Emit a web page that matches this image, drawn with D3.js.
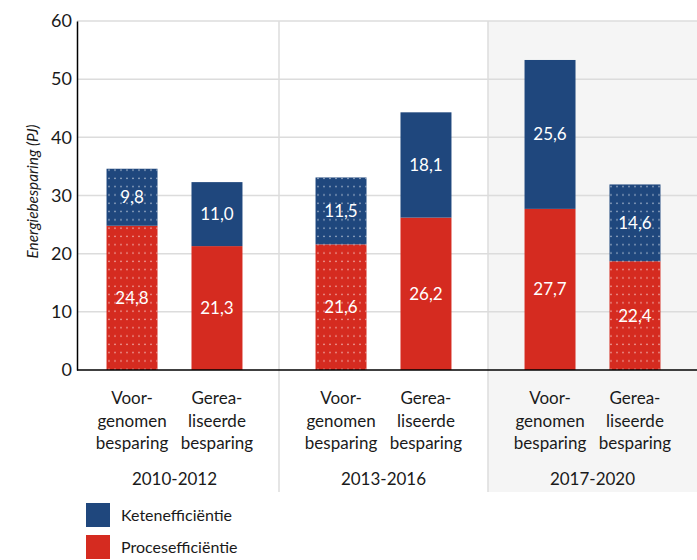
<!DOCTYPE html>
<html>
<head>
<meta charset="utf-8">
<script src="https://cdn.jsdelivr.net/npm/d3@7"></script>
<style>
  body { margin: 0; background: #fff; }
  svg { font-family: Lato, "Open Sans", sans-serif; }
</style>
</head>
<body>
<svg id="chart" width="697" height="560"></svg>
<script>
// periods and bar types
const periods = ["2010-2012", "2013-2016", "2017-2020"]
const barTypes = ["voor", "ger"]
const barLabels = [["Voor-", "genomen", "besparing"], ["Gerea-", "liseerde", "besparing"]]

// bar heights as drawn, per period, same order as barTypes
const proces = [[24.8, 21.3], [21.6, 26.2], [27.7, 18.7]]
const keten = [[9.8, 11.0], [11.5, 18.1], [25.6, 13.2]]
// printed labels
const procesLabels = [["24,8", "21,3"], ["21,6", "26,2"], ["27,7", "22,4"]]
const ketenLabels = [["9,8", "11,0"], ["11,5", "18,1"], ["25,6", "14,6"]]
// dotted bars
const dotted = [[true, false], [true, false], [false, true]]

const yTicks = [0, 10, 20, 30, 40, 50, 60]
const seriesNames = ["Ketenefficiëntie", "Procesefficiëntie"]
const colors = ["#1f477d", "#d52b20"]

const svg = d3.select("#chart")

const plotLeft = 77, plotRight = 697, plotTop = 21, plotBottom = 370

// scales
const x0 = d3.scaleBand().domain(periods).range([70, 697])
const x1 = d3.scaleBand().domain(barTypes).range([0, x0.bandwidth()])
  .paddingInner(0.4).paddingOuter(0.43)
const y = d3.scaleLinear().domain([0, 60]).range([plotBottom, plotTop])

// dot pattern
const defs = svg.append("defs")
const pat = defs.append("pattern")
  .attr("id", "dots")
  .attr("patternUnits", "userSpaceOnUse")
  .attr("width", 6).attr("height", 8.3)
pat.append("circle").attr("cx", 3).attr("cy", 4).attr("r", 0.85)
  .attr("fill", "#fff").attr("opacity", 0.6)

// grey background for the last period
svg.append("rect")
  .attr("x", x0("2017-2020")).attr("y", plotTop)
  .attr("width", plotRight - x0("2017-2020")).attr("height", 492 - plotTop)
  .attr("fill", "#f5f5f5")

// gridlines
svg.append("g").selectAll("line")
  .data(yTicks.filter(d => d > 0))
  .join("line")
  .attr("x1", plotLeft).attr("x2", plotRight)
  .attr("y1", d => y(d)).attr("y2", d => y(d))
  .attr("stroke", "#dcdcdc").attr("stroke-width", 1.5)

// period dividers
svg.append("g").selectAll("line")
  .data(periods.slice(1))
  .join("line")
  .attr("x1", d => x0(d)).attr("x2", d => x0(d))
  .attr("y1", plotTop).attr("y2", 492)
  .attr("stroke", "#dcdcdc").attr("stroke-width", 1.5)

// bars
periods.forEach((p, i) => {
  const g = svg.append("g").attr("transform", "translate(" + x0(p) + ",0)")
  barTypes.forEach((b, j) => {
    const bx = x1(b), bw = x1.bandwidth()
    const pv = proces[i][j], kv = keten[i][j]
    const segs = [
      { y0: 0, y1: pv, c: colors[1], t: procesLabels[i][j] },
      { y0: pv, y1: pv + kv, c: colors[0], t: ketenLabels[i][j] }
    ]
    segs.forEach(s => {
      g.append("rect")
        .attr("x", bx).attr("width", bw)
        .attr("y", y(s.y1)).attr("height", y(s.y0) - y(s.y1))
        .attr("fill", s.c)
      if (dotted[i][j]) {
        g.append("rect")
          .attr("x", bx).attr("width", bw)
          .attr("y", y(s.y1)).attr("height", y(s.y0) - y(s.y1))
          .attr("fill", "url(#dots)")
      }
      g.append("text")
        .attr("x", bx + bw / 2)
        .attr("y", (y(s.y0) + y(s.y1)) / 2)
        .attr("dy", "0.35em")
        .attr("text-anchor", "middle")
        .attr("fill", "#fff")
        .attr("font-size", 17)
        .text(s.t)
    })
    // category label
    const t = g.append("text")
      .attr("x", bx + bw / 2).attr("y", 404)
      .attr("text-anchor", "middle")
      .attr("font-size", 17).attr("fill", "#1a1a1a")
    barLabels[j].forEach((l, k) => {
      t.append("tspan").attr("x", bx + bw / 2).attr("dy", k ? 22.5 : 0).text(l)
    })
  })
  g.append("text")
    .attr("x", x0.bandwidth() / 2).attr("y", 485)
    .attr("text-anchor", "middle")
    .attr("font-size", 17).attr("fill", "#1a1a1a")
    .text(p)
})

// y axis
const yAxis = svg.append("g")
  .attr("transform", "translate(" + plotLeft + ",0)")
  .call(d3.axisLeft(y).tickValues(yTicks).tickSize(0).tickPadding(5))
yAxis.select(".domain").attr("stroke", "#000").attr("stroke-width", 1.5)
yAxis.selectAll("text").attr("font-size", 18).attr("fill", "#1a1a1a")
  .style("font-family", "Lato, sans-serif")

// x axis line
svg.append("line")
  .attr("x1", plotLeft).attr("x2", plotRight)
  .attr("y1", plotBottom).attr("y2", plotBottom)
  .attr("stroke", "#000").attr("stroke-width", 1.5)

// y axis title
svg.append("text")
  .attr("transform", "translate(38," + (y(30) - 4) + ") rotate(-90)")
  .attr("text-anchor", "middle")
  .attr("font-size", 16).attr("font-style", "italic").attr("fill", "#1a1a1a")
  .attr("textLength", 134).attr("lengthAdjust", "spacingAndGlyphs")
  .text("Energiebesparing (PJ)")

// legend
const legend = svg.append("g").selectAll("g")
  .data(seriesNames)
  .join("g")
  .attr("transform", (d, i) => "translate(86," + (503 + i * 32) + ")")
legend.append("rect").attr("width", 24).attr("height", 24)
  .attr("fill", (d, i) => colors[i])
legend.append("text").attr("x", 35).attr("y", 12).attr("dy", "0.35em")
  .attr("font-size", 16).attr("fill", "#1a1a1a")
  .text(d => d)
</script>
</body>
</html>
